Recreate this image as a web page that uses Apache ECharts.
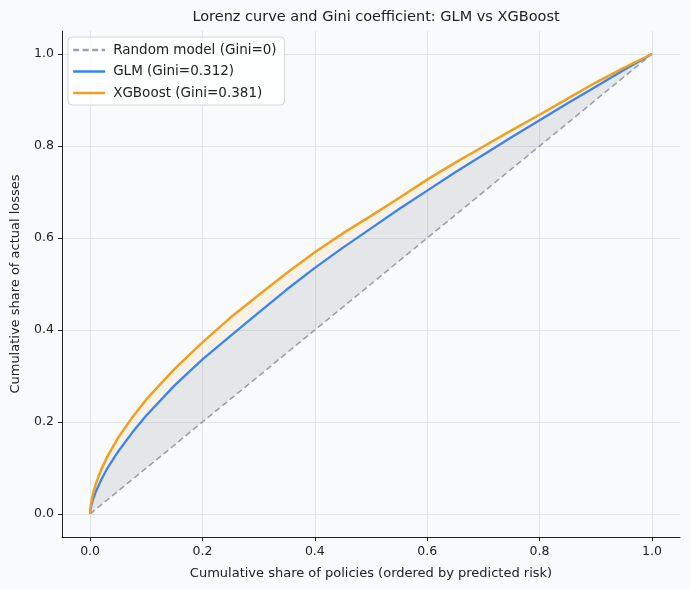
<!DOCTYPE html>
<html><head><meta charset="utf-8">
<script src="https://cdn.jsdelivr.net/npm/echarts@6/dist/echarts.min.js"></script>
<style>html,body{margin:0;padding:0;background:#f8fafc}#c{width:690px;height:590px}</style>
</head><body><div id="c"></div>
<script>
// Cumulative share of policies (x)
const xs = [0, 0.0005, 0.002, 0.005, 0.01, 0.02, 0.03, 0.05, 0.075, 0.1, 0.15, 0.2, 0.25, 0.3, 0.35, 0.4, 0.45, 0.5, 0.55, 0.6, 0.65, 0.7, 0.75, 0.8, 0.85, 0.9, 0.95, 1.0];
// GLM Lorenz curve (cumulative share of losses)
const glm = [0, 0.007, 0.017, 0.031, 0.048, 0.075, 0.098, 0.136, 0.177, 0.214, 0.279, 0.336, 0.387, 0.438, 0.488, 0.535, 0.579, 0.621, 0.663, 0.703, 0.743, 0.781, 0.819, 0.856, 0.893, 0.929, 0.965, 1.0];
// XGBoost Lorenz curve
const xgb = [0, 0.011, 0.025, 0.043, 0.065, 0.097, 0.123, 0.166, 0.210, 0.249, 0.315, 0.373, 0.427, 0.476, 0.524, 0.569, 0.610, 0.648, 0.687, 0.727, 0.764, 0.799, 0.834, 0.868, 0.903, 0.938, 0.970, 1.0];
// Random model diagonal
const randX = [0, 1];
const randY = [0, 1];
const ticks = [0, 0.2, 0.4, 0.6, 0.8, 1.0];
const names = ['Random model (Gini=0)', 'GLM (Gini=0.312)', 'XGBoost (Gini=0.381)'];

const font = 'DejaVu Sans';
const chart = echarts.init(document.getElementById('c'), null, {renderer: 'canvas'});

function axisCommon(name, gap) {
  return {
    type: 'value', min: -0.05, max: 1.05,
    name: name, nameLocation: 'middle', nameGap: gap,
    nameTextStyle: {fontFamily: font, fontSize: 13, color: '#222'},
    axisLine: {show: true, onZero: false, lineStyle: {color: '#222', width: 1}},
    axisTick: {show: true, length: 4, lineStyle: {color: '#222'}, customValues: ticks},
    axisLabel: {fontFamily: font, fontSize: 12.5, color: '#222', customValues: ticks,
      formatter: v => v.toFixed(1)},
    splitLine: {show: true, lineStyle: {color: '#e1e4e8', width: 1}}
  };
}

// polygon between an upper and lower curve sampled at xs
function band(upper, lower, color) {
  return {
    type: 'custom', coordinateSystem: 'cartesian2d', silent: true, z: 1,
    data: [[0, 0]],
    renderItem: function (params, api) {
      const pts = [];
      for (let i = 0; i < xs.length; i++) pts.push(api.coord([xs[i], upper[i]]));
      for (let i = xs.length - 1; i >= 0; i--) pts.push(api.coord([xs[i], lower[i]]));
      return {type: 'polygon', shape: {points: pts}, style: {fill: color, stroke: null}};
    }
  };
}

const series = [
  band(glm, xs, 'rgba(128,128,128,0.16)'),
  band(xgb, glm, 'rgba(245,166,35,0.10)'),
  {name: names[0], type: 'line', data: randX.map((x, i) => [x, randY[i]]), symbol: 'none',
   lineStyle: {color: '#9aa1ad', width: 1.6, type: [6, 3.5]}, itemStyle: {color: '#9aa1ad'}, z: 3},
  {name: names[1], type: 'line', data: xs.map((x, i) => [x, glm[i]]), symbol: 'none', smooth: false,
   lineStyle: {color: '#3b82f6', width: 2.3}, itemStyle: {color: '#3b82f6'}, z: 4},
  {name: names[2], type: 'line', data: xs.map((x, i) => [x, xgb[i]]), symbol: 'none', smooth: false,
   lineStyle: {color: '#f0a020', width: 2.5}, itemStyle: {color: '#f0a020'}, z: 5}
];

chart.setOption({
  backgroundColor: '#f8fafc',
  animation: false,
  title: {text: 'Lorenz curve and Gini coefficient: GLM vs XGBoost', left: 371, textAlign: 'center', top: 5,
    textStyle: {fontFamily: font, fontSize: 14.5, fontWeight: 'normal', color: '#222'}},
  grid: {left: 62, right: 10, top: 31, bottom: 53, containLabel: false, outerBoundsMode: 'none'},
  legend: {data: names, orient: 'vertical', left: 68, top: 37, padding: [6, 8, 5, 4], itemGap: 7.5,
    itemWidth: 32, itemHeight: 14, backgroundColor: 'rgba(255,255,255,0.85)', borderColor: '#d4d4d4',
    borderWidth: 1, borderRadius: 4, itemStyle: {opacity: 0}, lineStyle: {width: 2.3},
    textStyle: {fontFamily: font, fontSize: 13.5, color: '#222', padding: [0, 0, 0, 3]}},
  xAxis: axisCommon('Cumulative share of policies (ordered by predicted risk)', 30),
  yAxis: axisCommon('Cumulative share of actual losses', 40),
  series: series
});
</script></body></html>
